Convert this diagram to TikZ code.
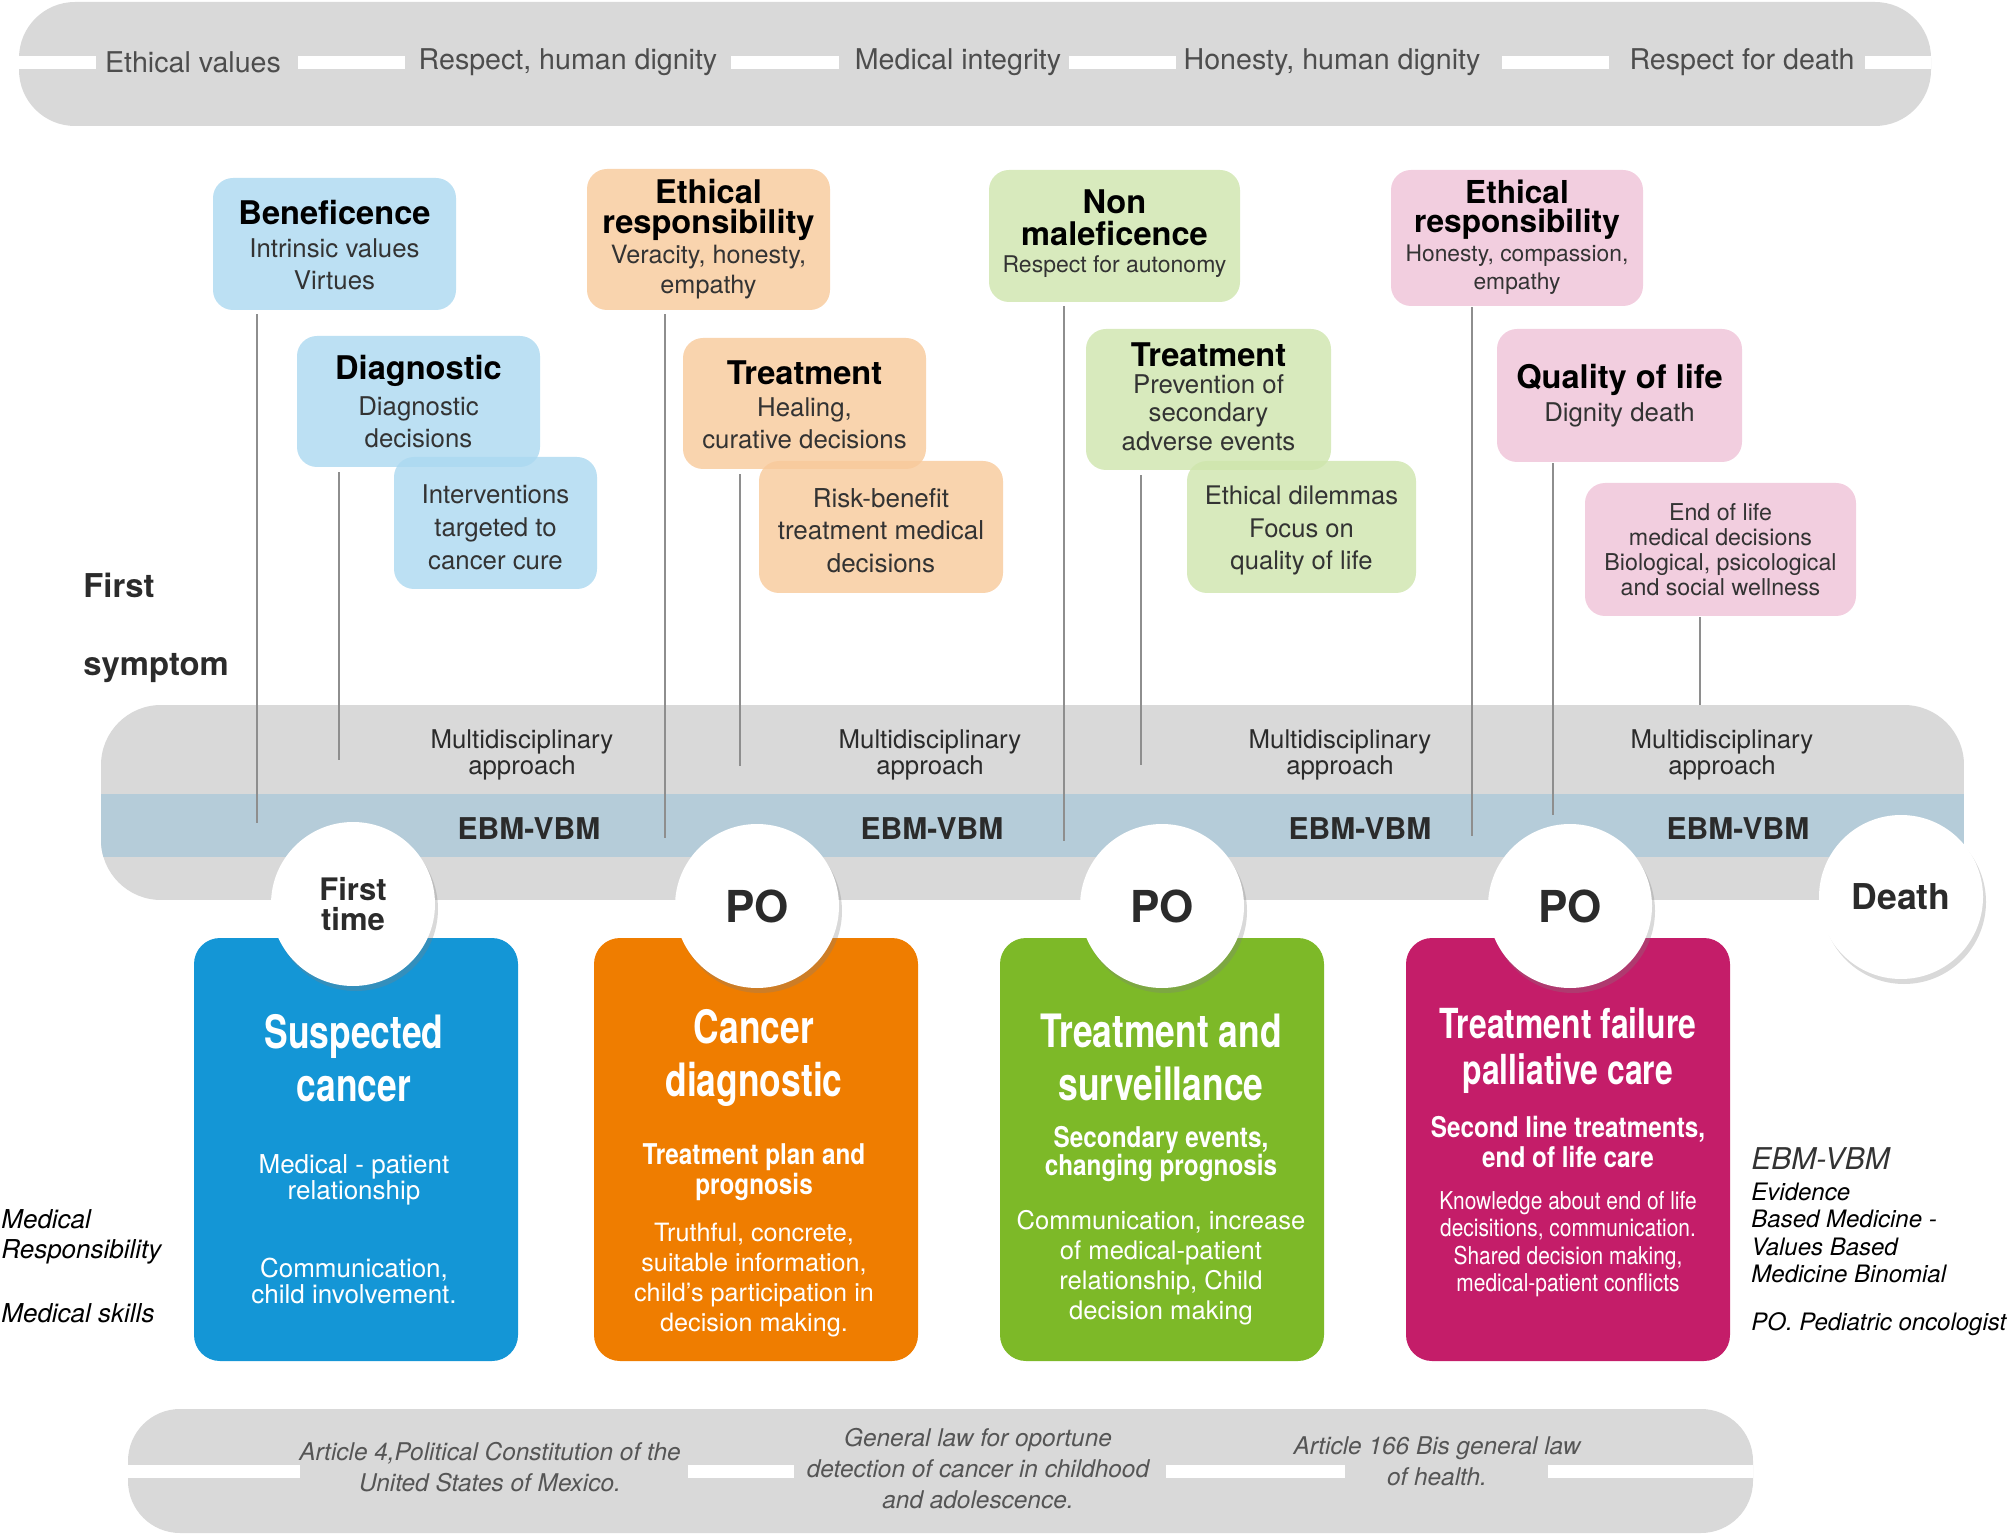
\documentclass[tikz,border=0pt]{standalone}
\usepackage{fontspec}
\setmainfont{TeX Gyre Heros}
\newfontfamily\condfont[FakeStretch=0.77]{TeX Gyre Heros}
\newfontfamily\semicond[FakeStretch=0.85]{TeX Gyre Heros}
\usetikzlibrary{calc,shadows}
\newcommand{\fsz}[2]{\fontsize{#1}{#2}\selectfont}
\definecolor{bandgray}{HTML}{D9D9D9}
\definecolor{stripblue}{RGB}{181,204,217}
\definecolor{toptxt}{HTML}{4D4D4D}
\definecolor{subtxt}{HTML}{333333}
\definecolor{txtdark}{HTML}{2B2B2B}
\definecolor{linegray}{HTML}{8E8E8E}
\definecolor{lawgray}{HTML}{555555}
\definecolor{lblue}{RGB}{171,216,240}
\definecolor{lorange}{RGB}{248,201,154}
\definecolor{lgreen}{RGB}{206,229,172}
\definecolor{lpink}{RGB}{239,194,215}
\definecolor{cblue}{HTML}{1496D6}
\definecolor{corange}{HTML}{EF7D00}
\definecolor{cgreen}{HTML}{7DB928}
\definecolor{cmag}{HTML}{C41D69}
\tikzset{
  every node/.append style={inner sep=0pt},
  toptext/.style={text=toptxt, font=\fsz{14.3}{16}},
  lbox/.style={rounded corners=10pt, fill opacity=0.8, draw=none},
  hd/.style={align=center, text=black, font=\bfseries\fsz{16.3}{15.4}},
  sub/.style={align=center, text=subtxt, font=\fsz{12.9}{16}},
  vline/.style={draw=linegray, line width=1.4pt},
  circ/.style={circle, fill=white, minimum size=82pt, align=center, text=txtdark,
     drop shadow={shadow xshift=1.5pt, shadow yshift=-2.5pt, opacity=0.3}},
  card/.style={rounded corners=13pt, draw=none, minimum width=162pt, minimum height=211.5pt},
  ctitle/.style={text=white, align=center, font={\condfont\bfseries\fsz{23}{26.5}}},
  csub/.style={text=white, align=center, font={\semicond\bfseries\fsz{14.3}{15}}},
  cbody/.style={text=white, align=center, font=\fsz{12.8}{15}},
  multi/.style={align=center, text=txtdark, font=\fsz{12.9}{12.8}},
  ebm/.style={text=txtdark, font=\bfseries\fsz{15}{15}},
  side/.style={anchor=west, align=left, text=black, font=\itshape\fsz{13}{15}},
  lawtxt/.style={align=center, text=lawgray, font=\itshape\fsz{12.2}{15.5}},
}
\begin{document}
\begin{tikzpicture}[x=0.5pt,y=-0.5pt]
\useasboundingbox (0,0) rectangle (2008,1534);

% ---------- top band ----------
\fill[bandgray, rounded corners=28pt] (19,2) rectangle (1931,126);
\foreach \a/\b in {19/96, 298/405, 731/839, 1069/1176, 1502/1609, 1865/1931}
  \fill[white] (\a,56) rectangle (\b,69);
\node[toptext] (t1) at (193,62) {Ethical values};
\node[toptext] (t2) at (568,62) {Respect, human dignity};
\node[toptext] (t3) at (958,62) {Medical integrity};
\node[toptext] (t4) at (1332,62) {Honesty, human dignity};
\node[toptext] (t5) at (1742,62) {Respect for death};

% ---------- middle band ----------
\begin{scope}
  \clip[rounded corners=30pt] (101,705) rectangle (1964,900);
  \fill[bandgray] (101,705) rectangle (1964,900);
  \fill[stripblue] (101,794) rectangle (1964,857);
\end{scope}
\foreach \x/\n in {522/1, 930/2, 1340/3, 1722/4}
  \node[multi] (m\n) at (\x,755) {Multidisciplinary\\approach};
\foreach \x/\n in {529/1, 932/2, 1360/3, 1738/4}
  \node[ebm] (e\n) at (\x,829) {EBM-VBM};

% ---------- light boxes ----------
\node[lbox, fill=lblue, minimum width=121.5pt, minimum height=66pt] (ben) at (334.5,244) {};
\node[lbox, fill=lblue, minimum width=121.5pt, minimum height=65.5pt] (diag) at (418.5,401.5) {};
\node[lbox, fill=lblue, minimum width=101.5pt, minimum height=66pt] (intv) at (495.5,523) {};
\node[lbox, fill=lorange, minimum width=121.5pt, minimum height=70.5pt] (eth1) at (708.5,239.5) {};
\node[lbox, fill=lorange, minimum width=121.5pt, minimum height=65.5pt] (treat1) at (804.5,403.5) {};
\node[lbox, fill=lorange, minimum width=122pt, minimum height=66pt] (risk) at (881,527) {};
\node[lbox, fill=lgreen, minimum width=125.5pt, minimum height=66pt] (nonm) at (1114.5,236) {};
\node[lbox, fill=lgreen, minimum width=122.5pt, minimum height=70.5pt] (treat2) at (1208.5,399.5) {};
\node[lbox, fill=lgreen, minimum width=114.5pt, minimum height=66pt] (dilem) at (1301.5,527) {};
\node[lbox, fill=lpink, minimum width=126pt, minimum height=68pt] (eth2) at (1517,238) {};
\node[lbox, fill=lpink, minimum width=122.5pt, minimum height=66.5pt] (qual) at (1619.5,395.5) {};
\node[lbox, fill=lpink, minimum width=135.5pt, minimum height=66.5pt] (eol) at (1720.5,549.5) {};

% box texts
\node[hd] (benh) at (334.5,213) {Beneficence};
\node[sub] (bens) at (334.5,264) {Intrinsic values\\Virtues};
\node[hd] (diagh) at (418.5,371) {Diagnostic};
\node[sub] (diags) at (418.5,422) {Diagnostic\\decisions};
\node[sub, font=\fsz{12.9}{16.5}] (intvs) at (495.5,527) {Interventions\\targeted to\\cancer cure};
\node[hd] (eth1h) at (708.5,210) {Ethical\\responsibility};
\node[sub, font=\fsz{12.6}{15.3}] (eth1s) at (708.5,272) {Veracity, honesty,\\empathy};
\node[hd] (treat1h) at (804.5,373) {Treatment};
\node[sub] (treat1s) at (804.5,423.5) {Healing,\\curative decisions};
\node[sub, font=\fsz{13}{16.3}] (risks) at (881,530.5) {Risk-benefit\\treatment medical\\decisions};
\node[hd, font=\bfseries\fsz{16.3}{15.8}] (nonmh) at (1114.5,217.5) {Non\\maleficence};
\node[sub, font=\fsz{11.5}{14}] (nonms) at (1114.5,267) {Respect for autonomy};
\node[hd] (treat2h) at (1208.5,355) {Treatment};
\node[sub, font=\fsz{12.9}{14.2}] (treat2s) at (1208.5,412.5) {Prevention of\\secondary\\adverse events};
\node[sub, font=\fsz{12.8}{16.3}] (dilems) at (1301.5,530.5) {Ethical dilemmas\\Focus on\\quality of life};
\node[hd, font=\bfseries\fsz{15.8}{14.6}] (eth2h) at (1517,210) {Ethical\\responsibility};
\node[sub, font=\fsz{11.4}{14}] (eth2s) at (1517,270) {Honesty, compassion,\\empathy};
\node[hd] (qualh) at (1619.5,380) {Quality of life};
\node[sub] (quals) at (1619.5,415) {Dignity death};
\node[sub, font=\fsz{11.6}{12.6}] (eols) at (1720.5,549.5) {End of life\\medical decisions\\Biological, psicological\\and social wellness};

% ---------- connectors ----------
\coordinate (l1) at (257,823);
\coordinate (l2) at (339,760);
\coordinate (l3) at (665,838);
\coordinate (l4) at (740,766);
\coordinate (l5) at (1064,841);
\coordinate (l6) at (1141,765);
\coordinate (l7) at (1472,836);
\coordinate (l8) at (1553,815);
\coordinate (l9) at (1700,705);
\draw[vline] ($(ben.south -| l1)+(0,4)$) -- (l1);
\draw[vline] ($(diag.south -| l2)+(0,5)$) -- (l2);
\draw[vline] ($(eth1.south -| l3)+(0,4)$) -- (l3);
\draw[vline] ($(treat1.south -| l4)+(0,5)$) -- (l4);
\draw[vline] ($(nonm.south -| l5)+(0,4)$) -- (l5);
\draw[vline] ($(treat2.south -| l6)+(0,5)$) -- (l6);
\draw[vline] ($(eth2.south -| l7)+(0,1)$) -- (l7);
\draw[vline] ($(qual.south -| l8)+(0,1)$) -- (l8);
\draw[vline] ($(eol.south -| l9)+(0,1)$) -- (l9);

% ---------- cards ----------
\node[card, fill=cblue] (k1) at (356,1149.5) {};
\node[card, fill=corange] (k2) at (756,1149.5) {};
\node[card, fill=cgreen] (k3) at (1162,1149.5) {};
\node[card, fill=cmag] (k4) at (1568,1149.5) {};

% ---------- circles ----------
\node[circ, font=\bfseries\fsz{15.5}{14.6}] (c1) at (353,904) {First\\time};
\node[circ, font=\bfseries\fsz{22}{22}] (c2) at (757,906) {PO};
\node[circ, font=\bfseries\fsz{22}{22}] (c3) at (1162,906) {PO};
\node[circ, font=\bfseries\fsz{22}{22}] (c4) at (1570,906) {PO};
\node[circ, font=\bfseries\fsz{17.8}{18}] (c5) at (1901,897) {Death};

% ---------- card texts ----------
\node[ctitle] (k1t) at (354,1058) {Suspected\\cancer};
\node[cbody, font=\fsz{13}{12.8}] (k1a) at (354,1180) {Medical - patient\\relationship};
\node[cbody, font=\fsz{13}{12.8}] (k1b) at (354,1281) {Communication,\\child involvement.};

\node[ctitle] (k2t) at (754,1058) {Cancer\\diagnostic};
\node[csub] (k2a) at (754,1172) {Treatment plan and\\prognosis};
\node[cbody, font=\fsz{12.6}{15.1}] (k2b) at (754,1280) {Truthful, concrete,\\suitable information,\\child’s participation in\\decision making.};

\node[ctitle] (k3t) at (1161,1057) {Treatment and\\surveillance};
\node[csub, font={\semicond\bfseries\fsz{14.3}{14.2}}] (k3a) at (1161,1154) {Secondary events,\\changing prognosis};
\node[cbody] (k3b) at (1161,1268) {Communication, increase\\of medical-patient\\relationship, Child\\decision making};

\node[ctitle, font={\condfont\bfseries\fsz{20.7}{23}}] (k4t) at (1568,1051) {Treatment failure\\palliative care};
\node[csub] (k4a) at (1568,1142) {Second line treatments,\\end of life care};
\node[cbody, font={\semicond\fsz{12.3}{13.7}}] (k4b) at (1568,1244) {Knowledge about end of life\\decisitions, communication.\\Shared decision making,\\medical-patient conflicts};

% ---------- side labels ----------
\node[anchor=west, text=txtdark, font=\bfseries\fsz{16.4}{16}] (fs1) at (83,585) {First};
\node[anchor=west, text=txtdark, font=\bfseries\fsz{16.4}{16}] (fs2) at (83,668) {symptom};
\node[side] (mr) at (1,1237) {Medical\\Responsibility};
\node[side] (ms) at (1,1313) {Medical skills};

\node[anchor=west, text=subtxt, font=\itshape\fsz{15}{15}] (lg1) at (1751,1159) {EBM-VBM};
\node[anchor=west, align=left, text=black, font=\itshape\fsz{12}{13.8}] (lg2) at (1751,1233) {Evidence\\Based Medicine -\\Values Based\\Medicine Binomial};
\node[anchor=west, text=black, font=\itshape\fsz{12}{13.8}] (lg3) at (1751,1324) {PO. Pediatric oncologist};

% ---------- bottom band ----------
\fill[bandgray, rounded corners=26pt] (128,1409) rectangle (1753,1533);
\foreach \a/\b in {128/300, 688/794, 1166/1345, 1548/1753}
  \fill[white] (\a,1465) rectangle (\b,1478);
\node[lawtxt] (b1) at (490,1467) {Article 4,Political Constitution of the\\United States of Mexico.};
\node[lawtxt] (b2) at (978,1469) {General law for oportune\\detection of cancer in childhood\\and adolescence.};
\node[lawtxt] (b3) at (1437,1461) {Article 166 Bis general law\\of health.};
\end{tikzpicture}
\end{document}
